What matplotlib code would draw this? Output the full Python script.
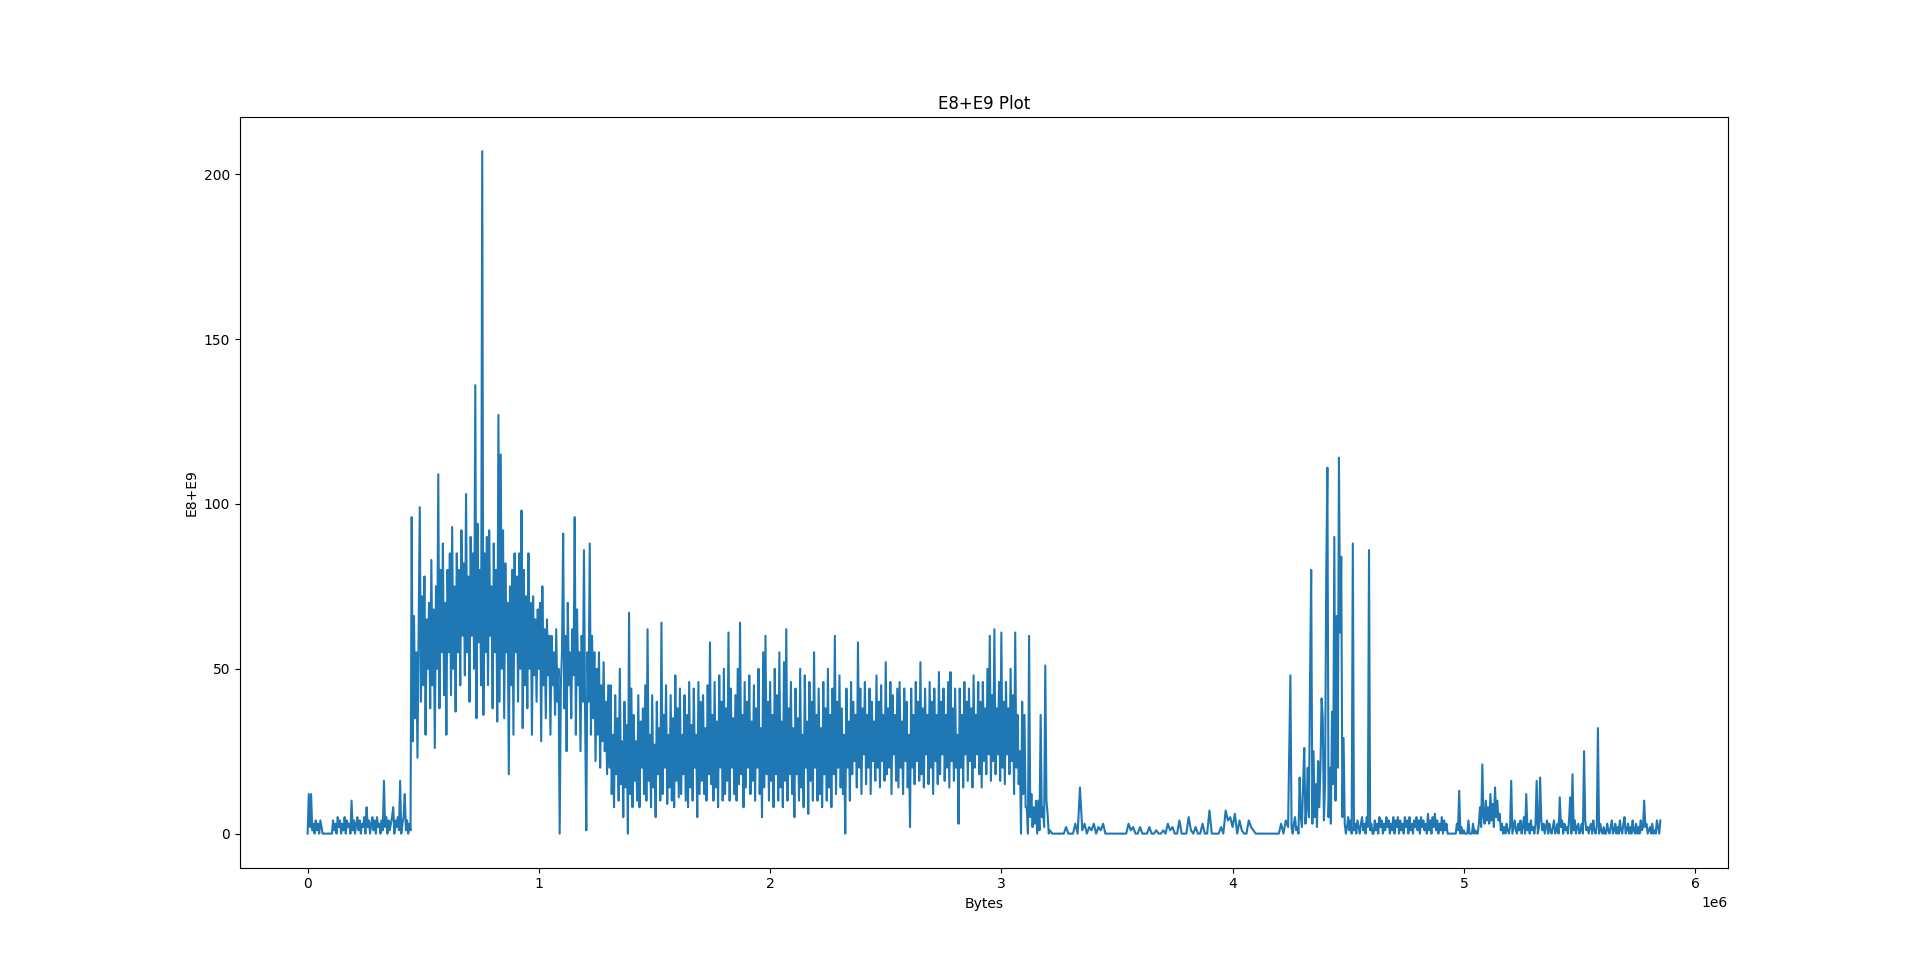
import numpy as np
import matplotlib.pyplot as plt

# each segment: start offset (bytes), sample spacing (bytes)

# 0 .. 0.445e6 : low noise before the first burst
seg_a_start, seg_a_step = 0, 5000
seg_a = [0, 12, 2, 12, 1, 3, 0, 4, 1, 3,
         0, 4, 2, 0, 0, 0, 0, 0, 0, 0,
         0, 0, 4, 1, 3, 0, 5, 2, 4, 0,
         3, 1, 5, 0, 4, 2, 3, 0, 10, 1,
         4, 0, 3, 5, 1, 4, 0, 3, 2, 5,
         0, 8, 2, 4, 0, 3, 5, 1, 4, 0,
         5, 2, 3, 0, 4, 1, 16, 2, 5, 0,
         4, 1, 3, 5, 8, 0, 4, 2, 5, 1,
         16, 0, 3, 5, 12, 1, 4, 0, 3, 1]

# 0.45e6 .. 1.305e6 : high band with the big spike
seg_b_start, seg_b_step = 450000, 5000
seg_b = [96, 28, 66, 35, 55, 23, 60, 99, 40, 72,
         45, 78, 30, 65, 50, 70, 38, 83, 45, 68,
         26, 75, 50, 109, 38, 80, 55, 88, 42, 70,
         30, 80, 55, 85, 42, 93, 50, 75, 37, 85,
         55, 80, 45, 92, 60, 82, 48, 103, 55, 78,
         40, 90, 60, 85, 50, 136, 35, 94, 58, 80,
         45, 207, 36, 85, 55, 90, 45, 92, 60, 75,
         38, 88, 55, 80, 34, 127, 40, 115, 50, 92,
         35, 82, 55, 70, 18, 75, 45, 80, 30, 85,
         55, 78, 40, 85, 50, 98, 32, 80, 45, 72,
         38, 85, 50, 70, 30, 72, 48, 65, 40, 68,
         50, 70, 28, 75, 45, 62, 35, 65, 48, 60,
         30, 60, 45, 55, 36, 62, 40, 50, 0, 45,
         55, 91, 38, 60, 25, 70, 45, 55, 35, 62,
         48, 96, 30, 68, 45, 55, 25, 60, 40, 86,
         35, 1, 55, 40, 88, 30, 60, 35, 55, 22,
         50, 30, 55, 20, 45, 28, 52, 25, 40, 18,
         45, 20]

# 1.31e6 .. 3.205e6 : middle band
seg_c_start, seg_c_step = 1310000, 5000
seg_c = [45, 12, 30, 8, 42, 18, 35, 10, 50, 15,
         28, 5, 40, 14, 33, 0, 67, 12, 44, 8,
         36, 16, 28, 10, 42, 8, 34, 20, 38, 12,
         45, 10, 62, 16, 30, 8, 42, 14, 27, 5,
         40, 18, 32, 10, 64, 12, 36, 20, 45, 9,
         30, 14, 42, 10, 35, 8, 48, 16, 38, 11,
         44, 12, 30, 18, 42, 10, 36, 8, 46, 14,
         33, 10, 44, 20, 30, 5, 46, 12, 40, 16,
         42, 12, 32, 10, 45, 18, 58, 15, 36, 10,
         46, 14, 34, 8, 48, 20, 40, 10, 50, 12,
         38, 16, 61, 10, 44, 20, 35, 12, 42, 10,
         50, 15, 64, 18, 36, 8, 46, 14, 40, 20,
         48, 12, 34, 16, 45, 10, 38, 20, 50, 12,
         32, 5, 55, 14, 60, 18, 40, 10, 46, 16,
         36, 8, 50, 18, 42, 10, 55, 14, 34, 8,
         52, 16, 62, 10, 38, 18, 46, 12, 32, 5,
         44, 18, 35, 10, 50, 14, 30, 8, 48, 20,
         34, 6, 46, 16, 40, 10, 55, 20, 36, 10,
         44, 12, 32, 8, 46, 18, 38, 10, 50, 14,
         36, 8, 44, 18, 60, 12, 40, 20, 48, 14,
         38, 12, 30, 0, 44, 20, 34, 10, 46, 18,
         40, 22, 36, 14, 58, 20, 44, 12, 38, 24,
         46, 15, 36, 20, 44, 12, 40, 22, 34, 16,
         48, 20, 40, 14, 45, 22, 36, 16, 52, 18,
         38, 20, 46, 12, 42, 24, 36, 16, 44, 14,
         46, 20, 34, 12, 44, 22, 40, 14, 30, 2,
         44, 20, 36, 15, 46, 22, 40, 16, 52, 18,
         38, 14, 44, 24, 36, 15, 46, 20, 40, 12,
         44, 22, 36, 15, 49, 18, 40, 24, 44, 16,
         36, 20, 46, 14, 49, 22, 38, 16, 44, 20,
         30, 3, 44, 20, 36, 14, 46, 24, 40, 16,
         44, 22, 38, 14, 48, 20, 36, 24, 46, 18,
         40, 14, 46, 22, 38, 18, 50, 24, 60, 16,
         42, 22, 62, 18, 38, 24, 46, 16, 61, 20,
         40, 15, 46, 24, 38, 18, 50, 22, 42, 12,
         61, 20, 36, 15, 25, 0, 40, 12, 36, 8,
         8, 0, 60, 5, 12, 2, 8, 3, 10, 0,
         10, 1, 36, 5, 8, 2, 51, 10, 6, 0]

# 3.21e6 .. 4.24e6 : mostly zero
seg_d_start, seg_d_step = 3210000, 10000
seg_d = [1, 0, 0, 0, 0, 0, 0, 2, 0, 0,
         0, 3, 0, 14, 1, 3, 0, 2, 1, 3,
         0, 2, 1, 3, 0, 0, 0, 0, 0, 0,
         0, 0, 0, 0, 3, 1, 2, 0, 0, 2,
         0, 0, 0, 2, 0, 0, 1, 0, 0, 1,
         0, 3, 1, 2, 0, 0, 4, 0, 0, 0,
         5, 1, 0, 2, 0, 0, 3, 0, 0, 7,
         0, 0, 0, 0, 2, 0, 7, 4, 5, 2,
         6, 0, 4, 1, 0, 0, 4, 2, 1, 0,
         0, 0, 0, 0, 0, 0, 0, 0, 0, 0,
         3, 0, 4, 2]

# 4.25e6 .. 4.605e6 : second burst
seg_e_start, seg_e_step = 4250000, 5000
seg_e = [48, 2, 0, 3, 5, 1, 2, 0, 17, 5,
         2, 15, 26, 3, 8, 20, 5, 47, 80, 3,
         25, 5, 15, 2, 22, 8, 20, 41, 35, 4,
         15, 78, 111, 5, 20, 3, 37, 15, 90, 10,
         66, 20, 114, 61, 84, 5, 29, 3, 0, 2,
         5, 1, 4, 0, 88, 1, 3, 0, 4, 2,
         0, 3, 5, 1, 3, 0, 5, 2, 86, 1,
         3, 0]

# 4.61e6 .. 5.85e6 : tail
seg_f_start, seg_f_step = 4610000, 5000
seg_f = [0, 4, 1, 3, 0, 5, 2, 4, 0, 3,
         1, 5, 2, 4, 0, 3, 1, 5, 0, 4,
         2, 5, 0, 4, 1, 3, 0, 5, 2, 4,
         0, 5, 1, 3, 0, 4, 2, 5, 1, 4,
         0, 5, 2, 4, 1, 3, 0, 6, 1, 4,
         0, 5, 2, 6, 1, 4, 0, 3, 1, 5,
         0, 4, 1, 3, 0, 0, 0, 0, 0, 0,
         0, 0, 3, 1, 13, 0, 2, 0, 1, 0,
         0, 0, 4, 0, 0, 0, 3, 0, 1, 0,
         0, 3, 8, 2, 21, 5, 3, 10, 4, 8,
         3, 12, 4, 9, 2, 14, 5, 10, 4, 6,
         1, 3, 0, 2, 0, 3, 1, 0, 2, 16,
         0, 2, 4, 1, 0, 3, 1, 4, 0, 2,
         5, 0, 12, 1, 3, 0, 4, 1, 2, 0,
         3, 16, 0, 2, 17, 4, 1, 3, 0, 2,
         4, 0, 3, 1, 0, 2, 4, 0, 1, 3,
         0, 11, 2, 4, 0, 3, 1, 2, 0, 4,
         11, 0, 18, 1, 4, 0, 2, 3, 0, 1,
         3, 0, 25, 4, 1, 2, 0, 2, 3, 0,
         4, 1, 0, 2, 32, 0, 3, 1, 0, 2,
         0, 0, 3, 1, 0, 2, 4, 0, 1, 3,
         0, 2, 0, 4, 1, 0, 3, 5, 0, 1,
         3, 0, 2, 0, 4, 1, 0, 3, 0, 2,
         0, 4, 1, 2, 10, 2, 3, 0, 1, 2,
         0, 3, 0, 1, 0, 4, 2, 0, 4]

segments = [(seg_a_start, seg_a_step, seg_a), (seg_b_start, seg_b_step, seg_b),
            (seg_c_start, seg_c_step, seg_c), (seg_d_start, seg_d_step, seg_d),
            (seg_e_start, seg_e_step, seg_e), (seg_f_start, seg_f_step, seg_f)]

xs, ys = [], []
for start, step, vals in segments:
    xs.append(start + np.arange(len(vals)) * step)
    ys.append(np.array(vals, dtype=float))
x = np.concatenate(xs)
y = np.concatenate(ys)

fig, ax = plt.subplots(figsize=(19.2, 9.75), dpi=100)
ax.plot(x, y, color='#1f77b4', linewidth=1.5)
ax.set_title('E8+E9 Plot')
ax.set_xlabel('Bytes')
ax.set_ylabel('E8+E9')

plt.savefig('out.png', dpi=100)
plt.close()
